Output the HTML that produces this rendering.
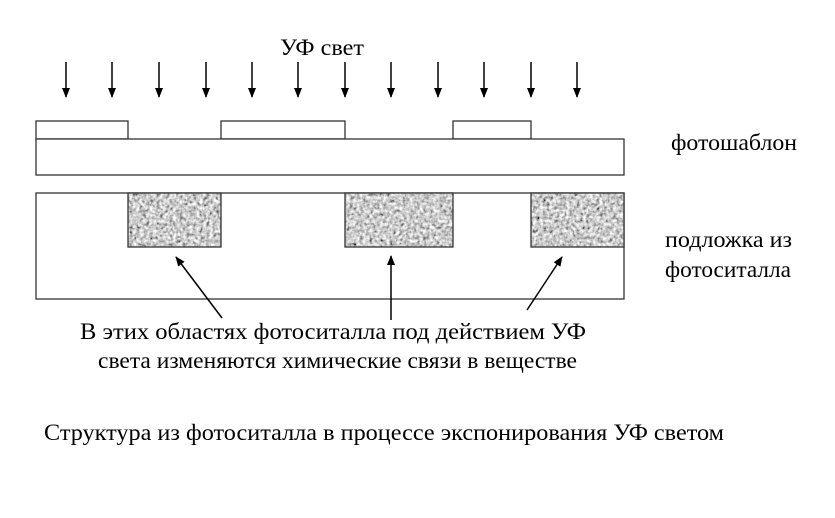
<!DOCTYPE html>
<html><head><meta charset="utf-8"><style>html,body{margin:0;padding:0;background:#fff}svg{display:block}text{font-family:"Liberation Serif","Times New Roman",serif}</style></head>
<body>
<svg width="835" height="518" viewBox="0 0 835 518" xmlns="http://www.w3.org/2000/svg" fill="#000">
<defs>
<filter id="t" x="0" y="0" width="100%" height="100%"><feTurbulence type="fractalNoise" baseFrequency="0.3" numOctaves="2" seed="5" result="r"/>
<feColorMatrix in="r" type="matrix" values="0.9 0.9 0.9 0 -0.75  0.9 0.9 0.9 0 -0.75  0.9 0.9 0.9 0 -0.75  0 0 0 0 1"/></filter>
<marker id="a" markerWidth="10" markerHeight="10" refX="9" refY="5" orient="auto" markerUnits="userSpaceOnUse"><path d="M0,1 L10,5 L0,9 Z"/></marker>
</defs>
<text x="280" y="55" font-size="23" textLength="84" lengthAdjust="spacingAndGlyphs">УФ свет</text>
<g stroke="#000" stroke-width="1.5">
<line x1="66" y1="62" x2="66" y2="97" marker-end="url(#a)"/>
<line x1="112" y1="62" x2="112" y2="97" marker-end="url(#a)"/>
<line x1="159" y1="62" x2="159" y2="97" marker-end="url(#a)"/>
<line x1="206" y1="62" x2="206" y2="97" marker-end="url(#a)"/>
<line x1="252" y1="62" x2="252" y2="97" marker-end="url(#a)"/>
<line x1="298" y1="62" x2="298" y2="97" marker-end="url(#a)"/>
<line x1="345" y1="62" x2="345" y2="97" marker-end="url(#a)"/>
<line x1="391" y1="62" x2="391" y2="97" marker-end="url(#a)"/>
<line x1="438" y1="62" x2="438" y2="97" marker-end="url(#a)"/>
<line x1="484" y1="62" x2="484" y2="97" marker-end="url(#a)"/>
<line x1="531" y1="62" x2="531" y2="97" marker-end="url(#a)"/>
<line x1="577" y1="62" x2="577" y2="97" marker-end="url(#a)"/>
</g>
<g fill="none" stroke="#333" stroke-width="1.3">
<rect x="36" y="121" width="92" height="18"/>
<rect x="221" y="121" width="124" height="18"/>
<rect x="453" y="121" width="78" height="18"/>
<rect x="36" y="139" width="588" height="36" fill="#fff"/>
<rect x="36" y="193" width="588" height="106"/>
</g>
<g>
<rect x="128" y="193" width="93" height="54" fill="#9a9a9a"/>
<rect x="128" y="193" width="93" height="54" filter="url(#t)"/>
<rect x="345" y="193" width="108" height="54" fill="#9a9a9a"/>
<rect x="345" y="193" width="108" height="54" filter="url(#t)"/>
<rect x="531" y="193" width="93" height="54" fill="#9a9a9a"/>
<rect x="531" y="193" width="93" height="54" filter="url(#t)"/>
</g>
<g fill="none" stroke="#333" stroke-width="1.3">
<rect x="128" y="193" width="93" height="54"/>
<rect x="345" y="193" width="108" height="54"/>
<rect x="531" y="193" width="93" height="54"/>
</g>
<g stroke="#000" stroke-width="1.5">
<line x1="222" y1="318" x2="176" y2="257" marker-end="url(#a)"/>
<line x1="391" y1="320" x2="391" y2="256" marker-end="url(#a)"/>
<line x1="527" y1="310" x2="562" y2="257" marker-end="url(#a)"/>
</g>
<text x="671" y="150" font-size="23" textLength="126" lengthAdjust="spacingAndGlyphs">фотошаблон</text>
<text x="665" y="247" font-size="23" textLength="127" lengthAdjust="spacingAndGlyphs">подложка из</text>
<text x="665" y="277" font-size="23" textLength="126" lengthAdjust="spacingAndGlyphs">фотоситалла</text>
<text x="80" y="339" font-size="23" textLength="506" lengthAdjust="spacingAndGlyphs">В этих областях фотоситалла под действием УФ</text>
<text x="98" y="368" font-size="23" textLength="479" lengthAdjust="spacingAndGlyphs">света изменяются химические связи в веществе</text>
<text x="44" y="440" font-size="23" textLength="680" lengthAdjust="spacingAndGlyphs">Структура из фотоситалла в процессе экспонирования УФ светом</text>
</svg>
</body></html>
